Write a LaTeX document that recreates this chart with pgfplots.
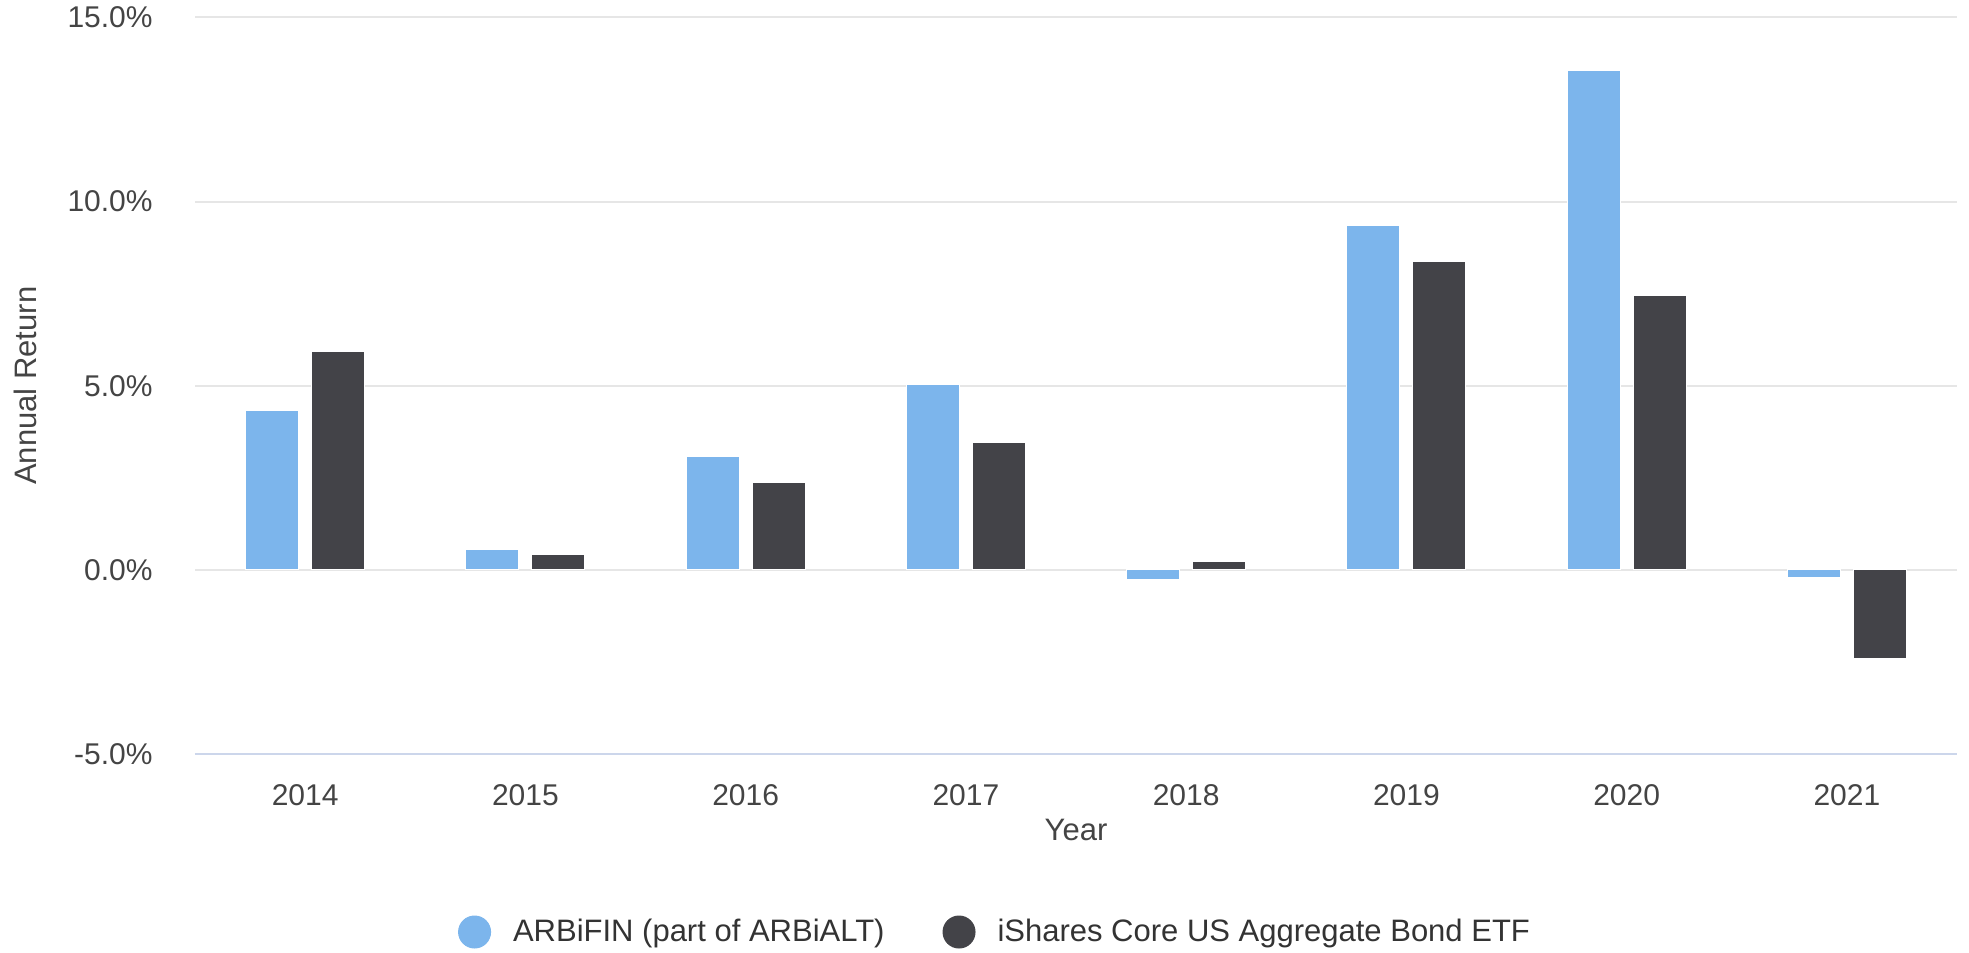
\documentclass[border=0pt]{standalone}
\usepackage{fontspec}
\setmainfont{Liberation Sans}
\usepackage{pgfplots}
\pgfplotsset{compat=1.18}
\definecolor{serA}{HTML}{7CB5EC}
\definecolor{serB}{HTML}{434348}
\definecolor{gridc}{HTML}{E6E6E6}
\definecolor{axisc}{HTML}{CCD6EB}
\definecolor{labc}{HTML}{444444}
\definecolor{legc}{HTML}{333333}
\begin{document}
\begin{tikzpicture}
\path[use as bounding box] (-97.5bp,-99.5bp) rectangle (887bp,377bp);
\begin{axis}[
  at={(0,0)}, anchor=south west,
  scale only axis,
  width=881bp, height=368.25bp,
  xmin=-0.5, xmax=7.5,
  ymin=-5, ymax=15,
  xtick={0,1,2,3,4,5,6,7},
  xticklabels={2014,2015,2016,2017,2018,2019,2020,2021},
  ytick={-5,0,5,10,15},
  yticklabels={-5.0\%,0.0\%,5.0\%,10.0\%,15.0\%},
  major tick length=0pt,
  ymajorgrids,
  major grid style={draw=gridc, line width=1bp},
  axis x line*=bottom,
  axis y line*=left,
  x axis line style={draw=axisc, line width=1bp, -},
  y axis line style={draw=none},
  xticklabel style={anchor=base, yshift=-25.5bp, inner sep=0pt, text=labc, font=\fontsize{15bp}{18bp}\selectfont},
  yticklabel style={anchor=mid east, xshift=-21bp, yshift=-2.5bp, inner sep=0pt, text=labc, font=\fontsize{15bp}{18bp}\selectfont},
  xlabel={Year},
  ylabel={Annual Return},
  xlabel style={at={(axis description cs:0.5,-0.1032)}, anchor=center, inner sep=0pt, text=labc, font=\fontsize{15.5bp}{18bp}\selectfont},
  ylabel style={at={(axis description cs:-0.0965,0.5)}, anchor=center, rotate=0, inner sep=0pt, text=labc, font=\fontsize{15.5bp}{18bp}\selectfont},
  legend style={at={(axis description cs:0.4546,-0.2417)}, anchor=center, draw=none, fill=none,
    font=\fontsize{15.5bp}{18bp}\selectfont, text=legc, legend columns=2,
    /tikz/every even column/.append style={column sep=27bp}},
]
\addplot[ybar, bar width=0.24, bar shift=-0.15, fill=serA, draw=white, line width=0.5bp,
  legend image code/.code={\fill[serA] (0bp,0bp) circle (8bp); \path (17bp,0bp);}]
  coordinates {(0,4.32) (1,0.55) (2,3.08) (3,5.03) (4,-0.25) (5,9.34) (6,13.55) (7,-0.22)};
\addlegendentry{ARBiFIN (part of ARBiALT)}
\addplot[ybar, bar width=0.24, bar shift=0.15, fill=serB, draw=white, line width=0.5bp,
  legend image code/.code={\fill[serB] (0bp,0bp) circle (8bp); \path (17bp,0bp);}]
  coordinates {(0,5.92) (1,0.41) (2,2.36) (3,3.45) (4,0.24) (5,8.38) (6,7.46) (7,-2.41)};
\addlegendentry{iShares Core US Aggregate Bond ETF}
\end{axis}
\end{tikzpicture}
\end{document}
